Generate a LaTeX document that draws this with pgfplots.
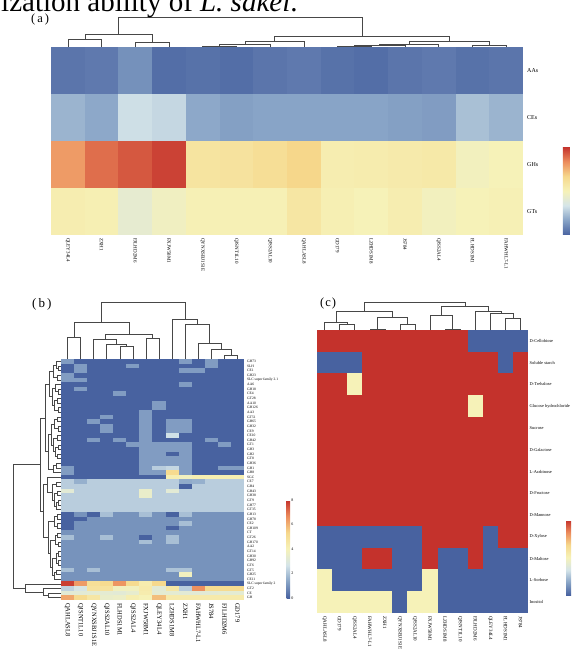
\documentclass[border=0pt]{standalone}
\usepackage{fontspec}
\setmainfont{Liberation Serif}
\usepackage{pgfplots}
\usepackage{pgfplotstable}
\pgfplotsset{compat=1.18}
\pgfplotsset{colormap={hm}{rgb255=(72,98,160) rgb255=(135,163,198) rgb255=(212,228,233) rgb255=(246,242,184) rgb255=(246,216,140) rgb255=(236,140,92) rgb255=(196,50,44)}}
\pgfdeclareplotmark{cellA}{\pgfpathrectangle{\pgfpoint{-16.9pt}{-23.55pt}}{\pgfpoint{33.8pt}{47.1pt}}\pgfusepathqfill}
\pgfdeclareplotmark{cellB}{\pgfpathrectangle{\pgfpoint{-6.58pt}{-2.35pt}}{\pgfpoint{13.16pt}{4.7pt}}\pgfusepathqfill}
\pgfdeclareplotmark{cellC}{\pgfpathrectangle{\pgfpoint{-7.58pt}{-10.93pt}}{\pgfpoint{15.16pt}{21.86pt}}\pgfusepathqfill}
\pgfplotsset{
 hm/.style={scale only axis, anchor=north west, enlargelimits=false,
   axis line style={draw=none}, major tick length=0pt,
   colormap name=hm, xtick={1,...,14}, xmin=0.5, xmax=14.5,
   xticklabel style={rotate=-90, anchor=west, inner sep=0pt},
   yticklabel pos=right, yticklabel style={anchor=west, inner sep=0pt},
   clip=false, /pgf/number format/assume math mode=true},
 cells/.style={scatter, only marks, mark=#1,
   scatter/use mapped color={fill=mapped color, draw=none}},
 sepA/.style={black!40, line width=0.35pt, mark=none, forget plot},
 sepB/.style={black!22, line width=0.15pt, mark=none, forget plot},
 sepC/.style={black!30, line width=0.3pt, mark=none, forget plot},
 dendro/.style={black!72, line width=0.5pt, mark=none, forget plot}
}
% panel (a): r = row (4 = top)
\pgfplotstableread{
r c1 c2 c3 c4 c5 c6 c7 c8 c9 c10 c11 c12 c13 c14
4 0.05 0.06 0.12 0.03 0.04 0.03 0.05 0.06 0.04 0.03 0.05 0.06 0.04 0.05
3 0.21 0.18 0.32 0.30 0.18 0.16 0.17 0.17 0.17 0.17 0.16 0.15 0.24 0.21
2 0.80 0.89 0.93 0.97 0.59 0.60 0.63 0.67 0.53 0.54 0.55 0.56 0.48 0.50
1 0.53 0.52 0.42 0.47 0.51 0.51 0.51 0.58 0.52 0.50 0.53 0.48 0.50 0.51
}\tabA
% panel (b): r = row (52 = top)
\pgfplotstableread{
r c1 c2 c3 c4 c5 c6 c7 c8 c9 c10 c11 c12 c13 c14
52 1.2 0 0 0 0 0 0 0 0 1.2 0 1.2 0 0
51 0 1.2 0 0 0 1.2 0 0 0 0 0 1.2 0 0
50 0 1.2 0 0 0 0 0 0 0 1.2 1.2 0 0 0
49 1.2 0 0 0 0 0 0 0 0 0 0 0 0 0
48 1.2 1.2 0 0 0 0 0 0 0 0 0 0 0 0
47 0 0 0 0 0 0 0 0 0 1.2 0 0 0 0
46 0 1.2 0 0 0 0 0 0 0 0 0 0 0 0
45 0 0 0 0 1.2 0 0 0 0 0 0 0 0 0
44 0 0 0 0 0 0 0 0 0 0 0 0 0 0
43 0 0 0 0 0 0 0 1.2 0 0 0 0 0 0
42 0 0 0 0 0 0 0 1.2 0 0 0 0 0 0
41 0 0 0 0 0 0 1.2 0 0 0 0 0 0 0
40 0 0 0 1.2 0 0 1.2 0 0 0 0 0 0 0
39 0 0 1.2 0 0 0 1.2 0 1.2 1.2 0 0 0 0
38 0 0 0 1.2 0 0 1.2 0 1.2 1.2 0 0 0 0
37 0 0 0 1.2 0 0 1.2 0 1.2 1.2 0 0 0 0
36 0 0 0 0 0 0 1.2 0 2.6 0 0 0 0 0
35 0 0 1.2 0 1.2 0 1.2 0 0 0 0 1.2 0 0
34 0 0 0 0 0 1.2 1.2 1.2 1.2 1.2 0 0 1.2 0
33 0 0 0 0 0 0 1.2 1.2 1.2 1.2 0 0 0 0
32 0 0 0 0 0 0 1.2 1.2 0 1.2 0 0 0 0
31 0 0 0 0 0 0 1.2 1.2 1.2 1.2 0 0 0 0
30 0 0 0 0 0 0 1.2 1.2 1.2 1.2 0 0 0 0
29 1.2 0 0 0 0 0 1.2 2.2 2.4 1.2 0 0 1.2 1.2
28 1.2 0 0 0 0 0 1.2 1.2 5.2 1.2 0 0 0 0
27 0 0 0 0 0 0 0 0 4.2 3.8 4.2 4.2 4.2 4.2
26 2.2 1.6 2.2 2.2 2.2 2.2 2.2 2.2 2.2 1.5 1.6 2.2 2.2 2.2
25 2.2 2.2 2.2 2.2 2.2 2.2 2.2 2.2 2.2 0 2.2 2.2 2.2 2.2
24 3.2 2.2 2.2 2.2 2.2 2.2 3.5 2.2 3.2 2.2 2.2 2.2 2.2 2.2
23 2.2 2.2 2.2 2.2 2.2 2.2 3.5 2.2 2.2 2.2 2.2 2.2 2.2 2.2
22 2.2 2.2 2.2 2.2 2.2 2.2 2.2 2.2 2.2 2.2 2.2 2.2 2.2 2.2
21 2.2 2.2 2.2 2.2 2.2 2.2 2.2 2.2 2.2 2.2 2.2 2.2 2.2 2.2
20 2.2 2.2 2.2 2.2 2.2 2.2 2.2 2.2 2.2 2.2 2.2 2.2 2.2 2.2
19 0 1 0 1.9 1 1 1.9 1 0 1.9 1 1 1 1
18 0 0 1 1 1 1 1 1 1 1 1 1 1 1
17 0 1 1 1 1 1 1 1 1 1.9 1 1 1 1
16 0 1 1 1 1 1 1 1 0 1 1 1 1 1
15 1 1 1 1 1 1 1 1 1 1 1 1 1 1
14 1.9 1 1 1.9 1 1 0 1 1.9 1 1 1 1 1
13 1 1 1 1 1 1 1.9 1 1.9 1 1 1 1 1
12 1 1 1 1 1 1 1 1 1 1 1 1 1 1
11 1 1 1 1 1 1 1 1 1 1 1 1 1 1
10 1 1 1 1 1 1 1 1 1 1 1 1 1 1
9 1 1 1 1 1 1 1 1 1 1 1 1 1 1
8 1 1 1 1 1 1 1 1 1 1 1 1 1 1
7 1.9 1 1.9 1 1 1 1 1 2 2 1 1 1 1
6 1 1 1 1 1 1 1 1 1 3.8 1 1 1 1
5 1 1 1 1 1 1 1 1 1 1 1 1 1 1
4 7.8 6.4 5 5.2 6.5 5.2 4.3 5.3 0 0 0 0 0 0
3 2.3 2.8 4.8 4.8 3.8 3.8 4.4 3.2 4.6 2.2 6.6 5.2 5.2 5.2
2 3.2 3.2 3.3 3.3 3.2 3.4 4.3 3.3 3.3 3.2 3.2 3.2 3.3 3.3
1 6.2 5.2 4.6 3.5 3.6 4.2 4.0 5.8 4.4 4.4 4.4 4.4 4.4 4.4
}\tabB
% panel (c): r = row (13 = top)
\pgfplotstableread{
r c1 c2 c3 c4 c5 c6 c7 c8 c9 c10 c11 c12 c13 c14
13 1 1 1 1 1 1 1 1 1 1 0 0 0 0
12 0 0 0 1 1 1 1 1 1 1 1 1 0 1
11 1 1 0.5 1 1 1 1 1 1 1 1 1 1 1
10 1 1 1 1 1 1 1 1 1 1 0.5 1 1 1
9 1 1 1 1 1 1 1 1 1 1 1 1 1 1
8 1 1 1 1 1 1 1 1 1 1 1 1 1 1
7 1 1 1 1 1 1 1 1 1 1 1 1 1 1
6 1 1 1 1 1 1 1 1 1 1 1 1 1 1
5 1 1 1 1 1 1 1 1 1 1 1 1 1 1
4 0 0 0 0 0 0 0 1 1 1 1 0 1 1
3 0 0 0 1 1 0 0 1 0 0 1 0 0 0
2 0.5 0 0 0 0 0 0 0.5 0 0 0 0 0 0
1 0.5 0.5 0.5 0.5 0.5 0 0.5 0.5 0 0 0 0 0 0
}\tabC
\begin{document}
\begin{tikzpicture}
\path[use as bounding box, fill=white] (0,0) rectangle (573pt,-658pt);

% ---------------- panel (a) heatmap
\begin{axis}[hm, at={(51pt,-47pt)}, width=472pt, height=188pt,
  ymin=0.5, ymax=4.5, ytick={1,2,3,4},
  yticklabels={GTs,GHs,CEs,AAs},
  xticklabels={QLEY34L4,ZXH1,FJLHD2M6,FXJW58M1,QYNXSBJ1S1E,QJSNT1L10,QJSS2AL10,QAHLASL8,GD179,LZHDS1M8,JS784,QJSS2AL4,FLHDS1M1,FAHWHL7-L1},
  xticklabel style={font=\fontsize{5}{5}\selectfont}, xticklabel shift=3pt,
  yticklabel style={font=\fontsize{6}{6}\selectfont}, yticklabel shift=4pt,
  point meta min=0, point meta max=1,
  colorbar, colorbar style={at={(1.0847,0)}, anchor=south west, scale only axis,
    width=7pt, height=88pt, ytick=\empty, axis line style={draw=none}}]
\pgfplotsinvokeforeach{1,...,14}{
  \addplot[cells=cellA, point meta={\thisrow{c#1}}] table[x expr=#1, y=r] {\tabA};
}
\pgfplotsinvokeforeach{1,...,13}{
  \addplot[sepA] coordinates {(#1.5,0.5) (#1.5,4.5)};
}
\pgfplotsinvokeforeach{1,2,3}{
  \addplot[sepA] coordinates {(0.5,#1.5) (14.5,#1.5)};
}
\end{axis}

% ---------------- panel (b) heatmap
\begin{axis}[hm, at={(61pt,-359pt)}, width=183pt, height=241pt,
  ymin=0.5, ymax=52.5, ytick={1,...,52},
  yticklabels={GH,CE,GT2,SLC super family 2,CE11,GH25,GT5,GT6,GH92,GH30,GT14,AA2,GH170,GT26,CT,GH109,CE2,GH78,GH13,GT35,GH77,GT9,GH38,GH43,GH4,CE7,SGC,GH8,GH1,GH36,GT8,GH2,GH3,GT1,GH42,CE10,CE9,GH32,GH65,GT51,AA3,GH126,AA10,GT28,CE4,GH18,AA6,SLC super family 2.1,GH23,CE1,SLH,GH73},
  xticklabels={QAHLASL8,QJSNT1L10,QYNXSBJ1S1E,QJSS2AL10,FLHDS1M1,QJSS2AL4,FXJW58M1,QLEY34L4,LZHDS1M8,ZXH1,FAHWHL7-L1,JS784,FJLHD2M6,GD179},
  xticklabel style={font=\fontsize{6.5}{6.5}\selectfont}, xticklabel shift=3pt,
  yticklabel style={font=\fontsize{3.6}{3.6}\selectfont}, yticklabel shift=3pt,
  point meta min=0, point meta max=8,
  colorbar, colorbar style={at={(1.2333,0.0083)}, anchor=south west, scale only axis,
    width=3.5pt, height=98pt, ytick={0,2,4,6,8}, axis line style={draw=none}, major tick length=0pt,
    yticklabel style={font=\fontsize{4}{4}\selectfont, inner sep=1pt},
    /pgf/number format/assume math mode=true}]
\pgfplotsinvokeforeach{1,...,14}{
  \addplot[cells=cellB, point meta={\thisrow{c#1}}] table[x expr=#1, y=r] {\tabB};
}
\pgfplotsinvokeforeach{1,...,13}{
  \addplot[sepB] coordinates {(#1.5,0.5) (#1.5,52.5)};
}
\pgfplotsinvokeforeach{1,...,51}{
  \addplot[sepB] coordinates {(0.5,#1.5) (14.5,#1.5)};
}
\end{axis}

% ---------------- panel (c) heatmap
\begin{axis}[hm, at={(317pt,-330pt)}, width=211pt, height=283pt,
  ymin=0.5, ymax=13.5, ytick={1,...,13},
  yticklabels={Inositol,L-Sorbose,D-Maltose,D-Xylose,D-Mannose,D-Fructose,L-Arabinose,D-Galactose,Sucrose,Glucose hydrochloride,D-Trehalose,Soluble starch,D-Cellobiose},
  xticklabels={QAHLASL8,GD179,QJSS2AL4,FAHWHL7-L1,ZXH1,QYNXSBJ1S1E,QJSS2AL10,FXJW58M1,LZHDS1M8,QJSNT1L10,FJLHD2M6,QLEY34L4,FLHDS1M1,JS784},
  xticklabel style={font=\fontsize{5}{5}\selectfont}, xticklabel shift=3pt,
  yticklabel style={font=\fontsize{4.4}{4.4}\selectfont}, yticklabel shift=1.5pt,
  point meta min=0, point meta max=1,
  colorbar, colorbar style={at={(1.1801,0.0636)}, anchor=south west, scale only axis,
    width=5pt, height=75pt, ytick=\empty, axis line style={draw=none}}]
\pgfplotsinvokeforeach{1,...,14}{
  \addplot[cells=cellC, point meta={\thisrow{c#1}}] table[x expr=#1, y=r] {\tabC};
}
\pgfplotsinvokeforeach{1,...,13}{
  \addplot[sepC] coordinates {(#1.5,0.5) (#1.5,13.5)};
}
\pgfplotsinvokeforeach{1,...,12}{
  \addplot[sepC] coordinates {(0.5,#1.5) (14.5,#1.5)};
}
\end{axis}

% ---------------- dendrograms and panel letters (pixel coordinates)
\begin{axis}[at={(0pt,0pt)}, anchor=north west, scale only axis, width=573pt, height=658pt,
  xmin=0, xmax=573, ymin=0, ymax=658, y dir=reverse, hide axis, clip=false]
% (a)
\addplot[dendro] coordinates {(67.9,47)(67.9,39.5)(101.6,39.5)(101.6,47)};
\addplot[dendro] coordinates {(135.3,47)(135.3,42.7)(169,42.7)(169,47)};
\addplot[dendro] coordinates {(84.75,39.5)(84.75,34.7)(152.15,34.7)(152.15,42.7)};
\addplot[dendro] coordinates {(202.7,47)(202.7,45.8)(236.4,45.8)(236.4,47)};
\addplot[dendro] coordinates {(219.55,45.8)(219.55,44.6)(270.1,44.6)(270.1,47)};
\addplot[dendro] coordinates {(244.8,44.6)(244.8,40.9)(303.9,40.9)(303.9,47)};
\addplot[dendro] coordinates {(337.6,47)(337.6,46)(371.3,46)(371.3,47)};
\addplot[dendro] coordinates {(354.45,46)(354.45,45)(405,45)(405,47)};
\addplot[dendro] coordinates {(379.7,45)(379.7,44)(438.7,44)(438.7,47)};
\addplot[dendro] coordinates {(472.4,47)(472.4,45.2)(506.1,45.2)(506.1,47)};
\addplot[dendro] coordinates {(409.2,44)(409.2,40.9)(489.25,40.9)(489.25,45.2)};
\addplot[dendro] coordinates {(274.35,40.9)(274.35,35.8)(449.2,35.8)(449.2,40.9)};
\addplot[dendro] coordinates {(118.45,34.7)(118.45,17.2)(361.8,17.2)(361.8,35.8)};
% (b) top
\addplot[dendro] coordinates {(67.5,359)(67.5,337.7)(80.6,337.7)(80.6,359)};
\addplot[dendro] coordinates {(119.8,359)(119.8,346.7)(132.9,346.7)(132.9,359)};
\addplot[dendro] coordinates {(106.7,359)(106.7,344)(126.35,344)(126.35,346.7)};
\addplot[dendro] coordinates {(93.7,359)(93.7,339.3)(116.5,339.3)(116.5,344)};
\addplot[dendro] coordinates {(146,359)(146,338.3)(159,338.3)(159,359)};
\addplot[dendro] coordinates {(105.1,339.3)(105.1,334.3)(152.5,334.3)(152.5,338.3)};
\addplot[dendro] coordinates {(74.05,337.7)(74.05,322.7)(128.8,322.7)(128.8,334.3)};
\addplot[dendro] coordinates {(224.4,359)(224.4,355)(237.5,355)(237.5,359)};
\addplot[dendro] coordinates {(211.3,359)(211.3,349.3)(230.95,349.3)(230.95,355)};
\addplot[dendro] coordinates {(198.3,359)(198.3,343.3)(221.1,343.3)(221.1,349.3)};
\addplot[dendro] coordinates {(185.2,359)(185.2,324.3)(209.7,324.3)(209.7,343.3)};
\addplot[dendro] coordinates {(172.1,359)(172.1,319.3)(197.45,319.3)(197.45,324.3)};
\addplot[dendro] coordinates {(101.4,322.7)(101.4,302.3)(184.8,302.3)(184.8,319.3)};
% (b) left
\addplot[dendro] coordinates {(61,366.0)(58,366.0)(58,370.6)(61,370.6)};
\addplot[dendro] coordinates {(61,361.3)(56,361.3)(56,368.3)(58,368.3)};
\addplot[dendro] coordinates {(61,375.2)(57,375.2)(57,379.9)(61,379.9)};
\addplot[dendro] coordinates {(56,364.8)(53,364.8)(53,377.55)(57,377.55)};
\addplot[dendro] coordinates {(61,389.1)(58,389.1)(58,393.8)(61,393.8)};
\addplot[dendro] coordinates {(61,384.5)(55,384.5)(55,391.45)(58,391.45)};
\addplot[dendro] coordinates {(61,398.4)(57,398.4)(57,403.0)(61,403.0)};
\addplot[dendro] coordinates {(61,407.7)(58,407.7)(58,412.3)(61,412.3)};
\addplot[dendro] coordinates {(57,400.7)(54,400.7)(54,410)(58,410)};
\addplot[dendro] coordinates {(55,388)(52,388)(52,405.35)(54,405.35)};
\addplot[dendro] coordinates {(53,371.2)(49,371.2)(49,396.7)(52,396.7)};
\addplot[dendro] coordinates {(61,417.0)(57,417.0)(57,421.6)(61,421.6)};
\addplot[dendro] coordinates {(61,426.2)(58,426.2)(58,430.9)(61,430.9)};
\addplot[dendro] coordinates {(57,419.3)(54,419.3)(54,428.55)(58,428.55)};
\addplot[dendro] coordinates {(61,435.5)(57,435.5)(57,440.1)(61,440.1)};
\addplot[dendro] coordinates {(61,444.8)(58,444.8)(58,449.4)(61,449.4)};
\addplot[dendro] coordinates {(61,454.0)(57.5,454.0)(57.5,458.7)(61,458.7)};
\addplot[dendro] coordinates {(58,447.1)(55,447.1)(55,456.35)(57.5,456.35)};
\addplot[dendro] coordinates {(57,437.8)(53,437.8)(53,451.7)(55,451.7)};
\addplot[dendro] coordinates {(54,423.9)(51,423.9)(51,444.75)(53,444.75)};
\addplot[dendro] coordinates {(61,463.3)(56,463.3)(56,467.9)(61,467.9)};
\addplot[dendro] coordinates {(56,465.6)(53,465.6)(53,472.6)(61,472.6)};
\addplot[dendro] coordinates {(51,434.3)(48,434.3)(48,469.1)(53,469.1)};
\addplot[dendro] coordinates {(49,383.95)(45,383.95)(45,451.7)(48,451.7)};
\addplot[dendro] coordinates {(61,481.8)(56,481.8)(56,486.5)(61,486.5)};
\addplot[dendro] coordinates {(61,491.1)(57,491.1)(57,495.7)(61,495.7)};
\addplot[dendro] coordinates {(61,500.4)(58,500.4)(58,505.0)(61,505.0)};
\addplot[dendro] coordinates {(58,502.7)(56,502.7)(56,509.7)(61,509.7)};
\addplot[dendro] coordinates {(57,493.4)(54,493.4)(54,506.2)(56,506.2)};
\addplot[dendro] coordinates {(56,484.15)(52,484.15)(52,499.8)(54,499.8)};
\addplot[dendro] coordinates {(61,477.2)(47,477.2)(47,491.98)(52,491.98)};
\addplot[dendro] coordinates {(61,514.3)(57,514.3)(57,518.9)(61,518.9)};
\addplot[dendro] coordinates {(61,523.6)(57,523.6)(57,528.2)(61,528.2)};
\addplot[dendro] coordinates {(57,516.6)(54,516.6)(54,525.9)(57,525.9)};
\addplot[dendro] coordinates {(61,532.8)(57,532.8)(57,537.5)(61,537.5)};
\addplot[dendro] coordinates {(61,542.1)(58,542.1)(58,546.7)(61,546.7)};
\addplot[dendro] coordinates {(57,535.15)(55,535.15)(55,544.4)(58,544.4)};
\addplot[dendro] coordinates {(61,551.4)(58.5,551.4)(58.5,556.0)(61,556.0)};
\addplot[dendro] coordinates {(61,560.6)(58.5,560.6)(58.5,565.3)(61,565.3)};
\addplot[dendro] coordinates {(58.5,553.7)(56,553.7)(56,562.95)(58.5,562.95)};
\addplot[dendro] coordinates {(61,569.9)(56,569.9)(56,574.5)(61,574.5)};
\addplot[dendro] coordinates {(56,572.2)(54,572.2)(54,579.2)(61,579.2)};
\addplot[dendro] coordinates {(56,558.33)(52,558.33)(52,575.7)(54,575.7)};
\addplot[dendro] coordinates {(55,539.78)(50,539.78)(50,567.0)(52,567.0)};
\addplot[dendro] coordinates {(54,521.25)(48,521.25)(48,553.4)(50,553.4)};
\addplot[dendro] coordinates {(47,484.6)(43,484.6)(43,537.3)(48,537.3)};
\addplot[dendro] coordinates {(45,417.8)(40,417.8)(40,510.95)(43,510.95)};
\addplot[dendro] coordinates {(61,593.1)(48,593.1)(48,597.7)(61,597.7)};
\addplot[dendro] coordinates {(61,588.4)(43,588.4)(43,595.4)(48,595.4)};
\addplot[dendro] coordinates {(61,583.8)(25,583.8)(25,591.9)(43,591.9)};
\addplot[dendro] coordinates {(40,464.4)(13,464.4)(13,587.85)(25,587.85)};
% (c)
\addplot[dendro] coordinates {(339.6,330)(339.6,324)(354.7,324)(354.7,330)};
\addplot[dendro] coordinates {(324.5,330)(324.5,322)(347.15,322)(347.15,324)};
\addplot[dendro] coordinates {(369.8,330)(369.8,329)(384.8,329)(384.8,330)};
\addplot[dendro] coordinates {(399.9,330)(399.9,324)(415,324)(415,330)};
\addplot[dendro] coordinates {(377.3,329)(377.3,317)(407.45,317)(407.45,324)};
\addplot[dendro] coordinates {(335.8,322)(335.8,311)(392.4,311)(392.4,317)};
\addplot[dendro] coordinates {(445.1,330)(445.1,329)(460.2,329)(460.2,330)};
\addplot[dendro] coordinates {(430.1,330)(430.1,315)(452.65,315)(452.65,329)};
\addplot[dendro] coordinates {(505.4,330)(505.4,318)(520.5,318)(520.5,330)};
\addplot[dendro] coordinates {(490.3,330)(490.3,313)(512.95,313)(512.95,318)};
\addplot[dendro] coordinates {(475.3,330)(475.3,311)(501.6,311)(501.6,313)};
\addplot[dendro] coordinates {(441.4,315)(441.4,306)(488.45,306)(488.45,311)};
\addplot[dendro] coordinates {(364.1,311)(364.1,302)(464.9,302)(464.9,306)};
% letters and cropped caption line
\node[anchor=base west, inner sep=0pt, font=\fontsize{29}{29}\selectfont] at (axis cs:1,11) {ization ability of \textit{L. sakei}.};
\node[anchor=west, inner sep=0pt, font=\fontsize{12.5}{12.5}\selectfont] at (axis cs:31,19.5) {(\hspace{2pt}a\hspace{2pt})};
\node[anchor=west, inner sep=0pt, font=\fontsize{13}{13}\selectfont] at (axis cs:32,304.5) {(\hspace{2pt}b\hspace{2pt})};
\node[anchor=west, inner sep=0pt, font=\fontsize{12.5}{12.5}\selectfont] at (axis cs:320,303.5) {(\hspace{1pt}c\hspace{1pt})};
\end{axis}
\end{tikzpicture}
\end{document}
